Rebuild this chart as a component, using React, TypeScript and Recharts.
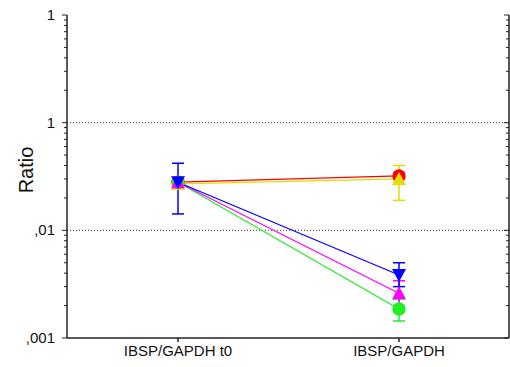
import React from "react";
import {
  ComposedChart,
  Line,
  XAxis,
  YAxis,
  ErrorBar,
  ReferenceLine,
} from "recharts";

// categories
const categories = ["IBSP/GAPDH t0", "IBSP/GAPDH"];

// mean ratios per group
const redValues = [0.028, 0.032];
const yellowValues = [0.027, 0.03];
const greenValues = [0.028, 0.00186];
const magentaValues = [0.028, 0.0026];
const blueValues = [0.028, 0.00385];

// error bar ends [low, high], null = none visible
const redErrors = [null, [0.03, 0.034]];
const yellowErrors = [null, [0.019, 0.04]];
const greenErrors = [null, [0.00144, 0.0023]];
const magentaErrors = [null, [0.00178, 0.0034]];
const blueErrors = [[0.0142, 0.042], [0.003, 0.005]];

// y axis ticks
const majorTicks = [0.001, 0.01, 0.1, 1];
const minorTicks = [
  0.002, 0.003, 0.004, 0.005, 0.006, 0.007, 0.008, 0.009,
  0.02, 0.03, 0.04, 0.05, 0.06, 0.07, 0.08, 0.09,
  0.2, 0.3, 0.4, 0.5, 0.6, 0.7, 0.8, 0.9,
];
const tickLabels: Record<string, string> = {
  "0.001": ",001",
  "0.01": ",01",
  "0.1": "1",
  "1": "1",
};
const gridValues = [0.1, 0.01];

const FONT = "'Liberation Sans', Arial, sans-serif";

const series = [
  { key: "red", color: "#ff0000", shape: "circle", values: redValues, errors: redErrors },
  { key: "yellow", color: "#e2dc00", shape: "up", values: yellowValues, errors: yellowErrors },
  { key: "green", color: "#22ee22", shape: "circle", values: greenValues, errors: greenErrors },
  { key: "magenta", color: "#ff00ff", shape: "up", values: magentaValues, errors: magentaErrors },
  { key: "blue", color: "#0000ff", shape: "down", values: blueValues, errors: blueErrors },
];

const data = categories.map((name, i) => {
  const row: any = { name };
  series.forEach((s) => {
    const v = s.values[i];
    const e = s.errors[i];
    row[s.key] = v;
    row[s.key + "Err"] = e ? [v - e[0], e[1] - v] : [0, 0];
  });
  return row;
});

const makeDot = (shape: string, color: string) => (props: any) => {
  const { cx, cy, index } = props;
  if (cx == null || cy == null) return <g key={index} />;
  if (shape === "circle") {
    return <circle key={index} cx={cx} cy={cy} r={6.7} fill={color} stroke="none" />;
  }
  const h = 7;
  const pts =
    shape === "up"
      ? `${cx - h},${cy + h - 1} ${cx + h},${cy + h - 1} ${cx},${cy - h}`
      : `${cx - h},${cy - h + 1} ${cx + h},${cy - h + 1} ${cx},${cy + h}`;
  return <polygon key={index} points={pts} fill={color} stroke="none" />;
};

const isMajor = (v: number) => majorTicks.some((m) => Math.abs(m - v) < 1e-9);

const LeftTick = (props: any) => {
  const { x, y, payload } = props;
  const major = isMajor(payload.value);
  const len = major ? 5 : 3;
  return (
    <g>
      <line x1={x - len} y1={y} x2={x} y2={y} stroke="#222" strokeWidth={1} />
      {major && (
        <text
          x={x - 12}
          y={y}
          dy={5}
          textAnchor="end"
          fontSize={15}
          fontFamily={FONT}
          fill="#111"
        >
          {tickLabels[String(payload.value)]}
        </text>
      )}
    </g>
  );
};

const RightTick = (props: any) => {
  const { x, y, payload } = props;
  const major = isMajor(payload.value);
  const len = major ? 5 : 3;
  return <line x1={x - len} y1={y} x2={x} y2={y} stroke="#222" strokeWidth={1} />;
};

const TopTick = (props: any) => {
  const { x, y } = props;
  return <line x1={x} y1={y} x2={x} y2={y - 4} stroke="#222" strokeWidth={1} />;
};

export default function App() {
  return (
    <div style={{ position: "absolute", left: 0, top: 0, background: "#fff" }}>
      <ComposedChart
        width={510}
        height={367}
        data={data}
        margin={{ top: 15, right: 0, bottom: 0, left: 0 }}
      >
        <XAxis
          dataKey="name"
          xAxisId="bottom"
          height={29}
          padding={{ left: 111, right: 110 }}
          stroke="#222"
          strokeWidth={1.5}
          tickSize={4}
          tickMargin={3}
          tick={{ fontSize: 15, fontFamily: FONT, fill: "#111" }}
        />
        <XAxis
          dataKey="name"
          xAxisId="top"
          orientation="top"
          height={0}
          padding={{ left: 111, right: 110 }}
          stroke="#222"
          strokeWidth={1.5}
          tickSize={0}
          tick={<TopTick />}
        />
        <YAxis
          yAxisId="left"
          scale="log"
          domain={[0.001, 1]}
          allowDataOverflow
          ticks={[...majorTicks, ...minorTicks]}
          interval={0}
          width={67}
          stroke="#222"
          strokeWidth={1.5}
          tickSize={0}
          tickMargin={0}
          tick={<LeftTick />}
          label={{
            content: () => (
              <text
                x={33}
                y={170}
                transform="rotate(-90 33 170)"
                textAnchor="middle"
                fontSize={20}
                fontFamily={FONT}
                fill="#111"
              >
                Ratio
              </text>
            ),
          }}
        />
        <YAxis
          yAxisId="right"
          orientation="right"
          scale="log"
          domain={[0.001, 1]}
          allowDataOverflow
          ticks={[...majorTicks, ...minorTicks]}
          interval={0}
          width={1}
          stroke="#222"
          strokeWidth={1.5}
          tickSize={0}
          tickMargin={0}
          tick={<RightTick />}
        />
        {gridValues.map((g) => (
          <ReferenceLine
            key={g}
            y={g}
            xAxisId="bottom"
            yAxisId="left"
            stroke="#333"
            strokeDasharray="1 2"
          />
        ))}
        {series.map((s) => (
          <Line
            key={s.key}
            xAxisId="bottom"
            yAxisId="left"
            dataKey={s.key}
            stroke={s.color}
            strokeWidth={1.2}
            dot={makeDot(s.shape, s.color)}
            activeDot={false}
            isAnimationActive={false}
          >
            <ErrorBar
              dataKey={s.key + "Err"}
              width={6}
              stroke={s.color}
              strokeWidth={1.5}
              direction="y"
              isAnimationActive={false}
            />
          </Line>
        ))}
      </ComposedChart>
    </div>
  );
}
